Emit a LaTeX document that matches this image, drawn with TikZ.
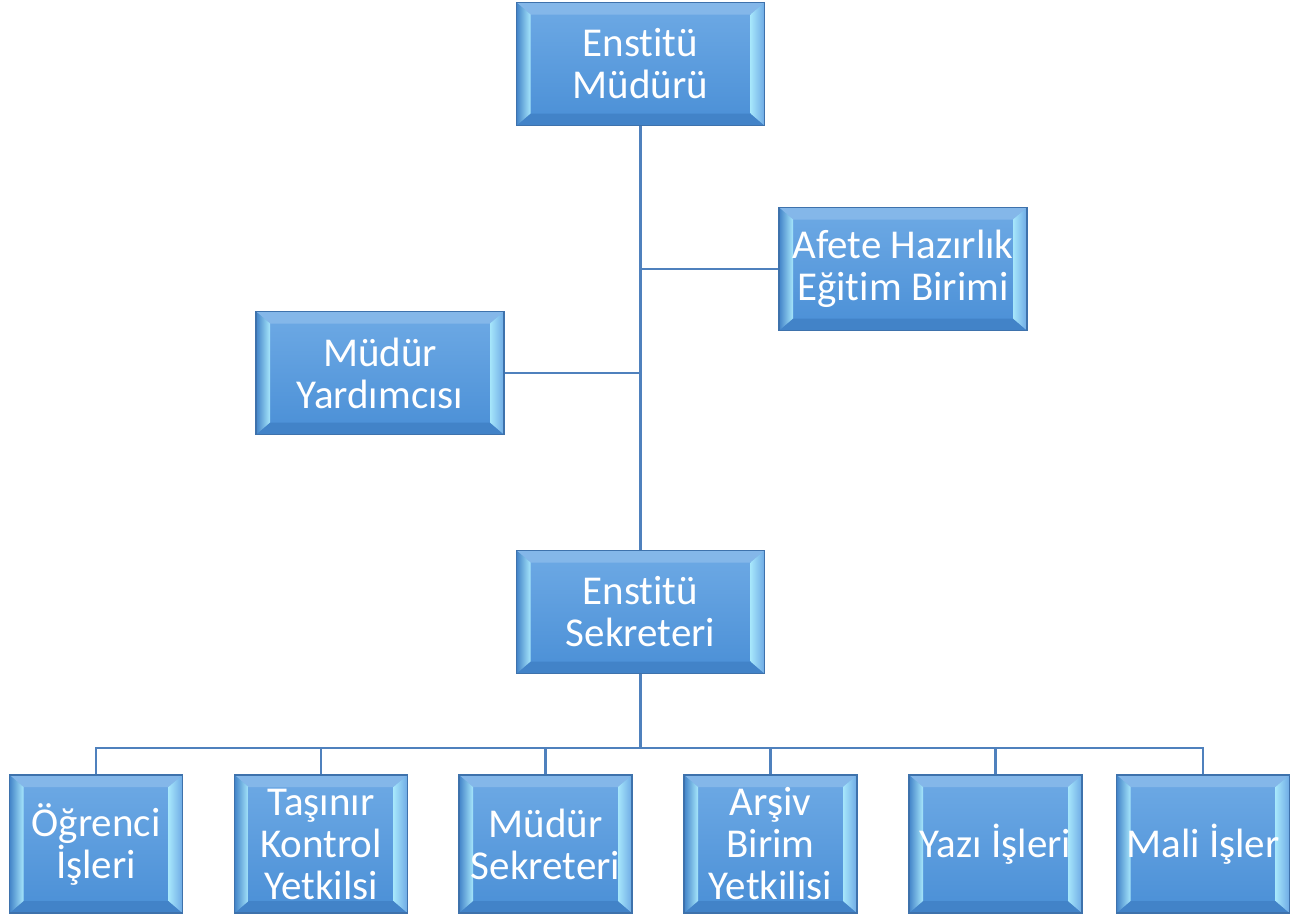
\documentclass[tikz,border=0pt]{standalone}
\usepackage{fontspec}
\setmainfont{Carlito}[Ligatures=NoCommon]
\usetikzlibrary{calc,positioning}
\definecolor{cEdge}{HTML}{3E72AC}
\definecolor{cLink}{HTML}{4F81BD}
\definecolor{cTop}{HTML}{6EAAE5}
\definecolor{cBot}{HTML}{4A8FD6}
\definecolor{cGlow}{HTML}{A6E6FB}
\definecolor{cDark}{HTML}{4283C8}
\begin{document}
\begin{tikzpicture}[x=1pt,y=-1pt,
   link/.style={draw=cLink,line width=2.6pt},
   unit/.style={draw=cEdge,line width=1.2pt,top color=cTop,bottom color=cBot,
              inner sep=0pt,align=center,text=white,
              font=\fontsize{41}{42}\selectfont,
              path picture={
                \coordinate (nw) at (path picture bounding box.north west);
                \coordinate (ne) at (path picture bounding box.north east);
                \coordinate (sw) at (path picture bounding box.south west);
                \coordinate (se) at (path picture bounding box.south east);
                \fill[cTop!85!white] (nw) -- (ne) -- ([shift={(-14pt,-12pt)}]ne)
                   -- ([shift={(14pt,-12pt)}]nw) -- cycle;
                \fill[cDark] (sw) -- (se) -- ([shift={(-14pt,12pt)}]se)
                   -- ([shift={(14pt,12pt)}]sw) -- cycle;
                \shade[left color=cDark,right color=cGlow] (nw) -- ([shift={(14pt,-12pt)}]nw)
                   -- ([shift={(14pt,12pt)}]sw) -- (sw) -- cycle;
                \shade[left color=cGlow,right color=cTop] (ne) -- ([shift={(-14pt,-12pt)}]ne)
                   -- ([shift={(-14pt,12pt)}]se) -- (se) -- cycle;
              }},
   bigbox/.style={unit,minimum width=248pt,minimum height=123pt},
   smallbox/.style={unit,minimum width=173pt,minimum height=138pt}]
  \useasboundingbox (0,0) rectangle (1304,916);
  % upper part
  \node[bigbox] (dir)  at (640.5,64) {Enstitü\\Müdürü};
  \node[bigbox] (afet) at (903,269)  {Afete Hazırlık\\Eğitim Birimi};
  \node[bigbox] (yrd)  at (380,373)  {Müdür\\Yardımcısı};
  \node[bigbox] (sek)  at (640.5,612) {Enstitü\\Sekreteri};
  % lower row
  \node[smallbox] (ogr)  at (96,844)    {Öğrenci\\İşleri};
  \node[smallbox] (tas)  at (321,844)   {Taşınır\\Kontrol\\Yetkilsi};
  \node[smallbox] (msk)  at (545.5,844) {Müdür\\Sekreteri};
  \node[smallbox] (ars)  at (770.5,844) {Arşiv\\Birim\\Yetkilisi};
  \node[smallbox] (yaz)  at (995.5,844) {Yazı İşleri};
  \node[smallbox] (mali) at (1203,844)  {Mali İşler};
  \coordinate (bus) at ($(sek.south)+(0,74)$);
  \draw[link] (dir.south) -- (sek.north);
  \draw[link] (afet.west) -- (afet.west -| dir.south);
  \draw[link] (yrd.east) -- (yrd.east -| dir.south);
  \draw[link] (sek.south) -- (bus);
  \draw[link] (ogr.north) |- (bus) -| (mali.north);
  \foreach \n in {tas,msk,ars,yaz}
    \draw[link] (\n.north) -- (\n.north |- bus);
\end{tikzpicture}
\end{document}
